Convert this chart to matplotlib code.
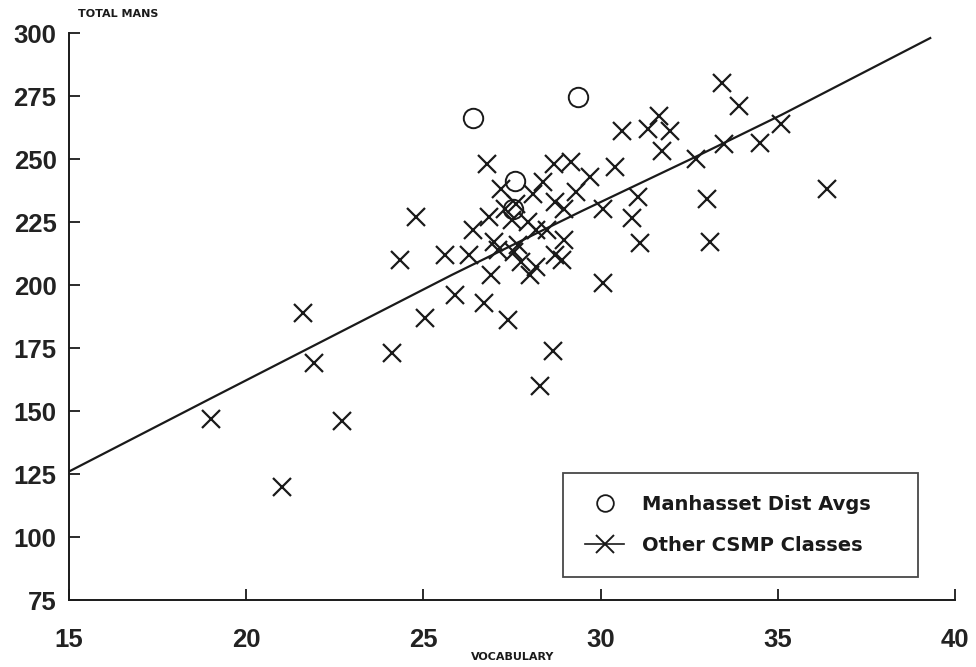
import matplotlib
matplotlib.use("Agg")
import matplotlib.pyplot as plt
from matplotlib.lines import Line2D

# ---- data ----
other_x = [19.0, 21.0, 21.6, 21.9, 22.7, 24.1, 24.35, 24.8, 25.05, 25.6,
           25.9, 26.3, 26.4, 26.7, 26.8, 26.85, 26.9, 27.0, 27.1, 27.2,
           27.4, 27.5, 27.57, 27.66, 27.76, 27.95, 28.0, 28.1, 28.18, 28.18,
           28.3, 28.37, 28.5, 28.65, 28.68, 28.7, 28.7, 28.9, 28.98, 28.98,
           29.17, 29.31, 29.69, 30.07, 30.07, 30.4, 30.6, 30.88, 31.05, 31.1,
           31.34, 31.64, 31.74, 31.96, 32.7, 33.0, 33.1, 33.42, 33.49, 33.9,
           34.5, 35.1, 36.39, 27.3, 27.6]
other_y = [147, 120, 189, 169, 146, 173, 210, 227, 187, 212,
           196, 212, 222, 193, 248, 227, 204, 217, 214, 238,
           186, 226, 213, 216, 209, 225, 204, 236, 207, 222,
           160, 241, 222, 174, 248, 233, 212, 210, 218, 230,
           249, 237, 243, 201, 230, 247, 261, 226.5, 235, 216.5,
           262, 267, 253, 261, 250, 234, 217, 280, 256, 271,
           256.5, 264, 238, 230, 232]

manh_x = [26.4, 27.59, 29.37, 27.52]
manh_y = [266.3, 241.3, 274.7, 230]

fit_x = [15.0, 19.0, 25.8, 29.46, 32.7, 35.1, 39.3]
fit_y = [126.0, 155.0, 204.0, 229.3, 251.0, 267.5, 298.0]

x_ticks = [15, 20, 25, 30, 35, 40]
y_ticks = [75, 100, 125, 150, 175, 200, 225, 250, 275, 300]

xlabel = "VOCABULARY"
ylabel = "TOTAL MANS"
leg_labels = ["Manhasset Dist Avgs", "Other CSMP Classes"]

# ---- figure ----
fig = plt.figure(figsize=(9.76, 6.67), dpi=100)
ax = fig.add_axes([0.0707, 0.1004, 0.9078, 0.8501])
ink = "#1a1a1a"

ax.plot(fit_x, fit_y, color=ink, lw=1.6, zorder=2)
ax.plot(other_x, other_y, linestyle="none", marker="x", ms=13, mew=1.6,
        color=ink, zorder=3)
ax.plot(manh_x, manh_y, linestyle="none", marker="o", ms=14, mew=1.4,
        mfc="none", mec=ink, zorder=3)

ax.set_xlim(15, 40)
ax.set_ylim(75, 300)
ax.set_xticks(x_ticks)
ax.set_yticks(y_ticks)
ax.spines["top"].set_visible(False)
ax.spines["right"].set_visible(False)
for s in ("left", "bottom"):
    ax.spines[s].set_linewidth(1.4)
    ax.spines[s].set_color(ink)
ax.tick_params(axis="both", direction="in", length=8, width=1.3, colors=ink,
               labelsize=18.5)
ax.tick_params(axis="x", pad=20)
ax.tick_params(axis="y", pad=9)
for lab in ax.get_xticklabels() + ax.get_yticklabels():
    lab.set_fontfamily("Liberation Sans")
    lab.set_fontweight("bold")
    lab.set_color("#222222")

fig.text(118 / 976, 1 - 14 / 667, ylabel, ha="center",
         va="center", fontsize=8, fontweight="bold", family="DejaVu Sans",
         color=ink)
fig.text(513 / 976, 1 - 657 / 667, xlabel, ha="center", va="center",
         fontsize=8, fontweight="bold", family="DejaVu Sans", color=ink)

handles = [
    Line2D([], [], linestyle="none", marker="o", ms=12, mew=1.3, mfc="none",
           mec=ink),
    Line2D([], [], color=ink, lw=1.2, marker="x", ms=13, mew=1.4),
]
leg = ax.legend(handles, leg_labels, loc="lower left",
                bbox_to_anchor=(0.5576, 0.0406, 0.4007, 0.1817), mode="expand",
                frameon=True, fancybox=False, handlelength=2.0,
                handletextpad=0.9, borderpad=1.15, labelspacing=1.1,
                borderaxespad=0,
                prop={"family": "DejaVu Sans", "weight": "bold",
                      "size": 14})
leg.get_frame().set_edgecolor(ink)
leg.get_frame().set_linewidth(1.3)
for t in leg.get_texts():
    t.set_color(ink)

fig.savefig("out.png", dpi=100)
